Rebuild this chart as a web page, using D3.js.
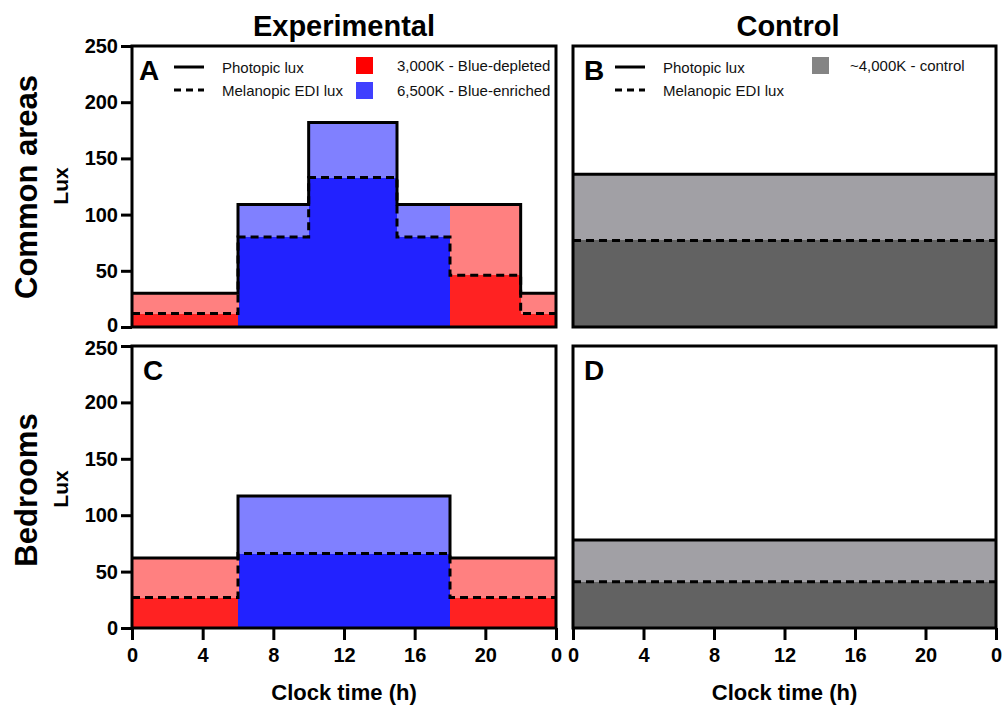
<!DOCTYPE html>
<html>
<head>
<meta charset="utf-8">
<script src="https://cdn.jsdelivr.net/npm/d3@7"></script>
<style>
  html, body { margin: 0; padding: 0; background: #fff; }
  svg { display: block; font-family: "Liberation Sans", Arial, Helvetica, sans-serif; }
</style>
</head>
<body>
<svg id="chart" width="1005" height="705"></svg>
<script>
// ---------------- DATA ----------------
const xTickValues = [0, 4, 8, 12, 16, 20, 24];
const xTickLabels = ["0", "4", "8", "12", "16", "20", "0"];
const yTickValues = [0, 50, 100, 150, 200, 250];

// Experimental – common areas (hours edges, photopic / melanopic EDI lux, light type)
const commonExpEdges = [0, 6, 10, 15, 18, 22, 24];
const commonExpPhotopic = [30, 109, 182, 109, 109, 30];
const commonExpMelanopic = [12, 80, 133, 80, 46, 12];
const commonExpType = ["3000K", "6500K", "6500K", "6500K", "3000K", "3000K"];

// Experimental – bedrooms
const bedroomExpEdges = [0, 6, 18, 24];
const bedroomExpPhotopic = [62, 117, 62];
const bedroomExpMelanopic = [27, 66, 27];
const bedroomExpType = ["3000K", "6500K", "3000K"];

// Control – common areas
const commonCtrlEdges = [0, 24];
const commonCtrlPhotopic = [136];
const commonCtrlMelanopic = [77];
const commonCtrlType = ["4000K"];

// Control – bedrooms
const bedroomCtrlEdges = [0, 24];
const bedroomCtrlPhotopic = [78];
const bedroomCtrlMelanopic = [41];
const bedroomCtrlType = ["4000K"];

const columnTitles = ["Experimental", "Control"];
const rowTitles = ["Common areas", "Bedrooms"];
const yLabel = "Lux";
const xLabel = "Clock time (h)";
const lineLegend = ["Photopic lux", "Melanopic EDI lux"];
const expLegend = ["3,000K - Blue-depleted", "6,500K - Blue-enriched"];
const ctrlLegend = ["~4,000K - control"];

// ---------------- STYLE ----------------
const fills = {
  "3000K": { light: "#ff8080", dark: "#ff2222", legend: "#ff0000" },
  "6500K": { light: "#8080ff", dark: "#2222ff", legend: "#4040ff" },
  "4000K": { light: "#a1a0a5", dark: "#626262", legend: "#848484" }
};

const svg = d3.select("#chart");

const panelDefs = [
  { key: "A", x0: 132, x1: 556, y0: 46, y1: 327, edges: commonExpEdges, phot: commonExpPhotopic, mel: commonExpMelanopic, type: commonExpType, yAxis: true, xAxis: false },
  { key: "B", x0: 573, x1: 996, y0: 46, y1: 327, edges: commonCtrlEdges, phot: commonCtrlPhotopic, mel: commonCtrlMelanopic, type: commonCtrlType, yAxis: false, xAxis: false },
  { key: "C", x0: 132, x1: 556, y0: 346, y1: 628, edges: bedroomExpEdges, phot: bedroomExpPhotopic, mel: bedroomExpMelanopic, type: bedroomExpType, yAxis: true, xAxis: true },
  { key: "D", x0: 573, x1: 996, y0: 346, y1: 628, edges: bedroomCtrlEdges, phot: bedroomCtrlPhotopic, mel: bedroomCtrlMelanopic, type: bedroomCtrlType, yAxis: false, xAxis: true }
];

panelDefs.forEach(p => {
  const x = d3.scaleLinear().domain([0, 24]).range([p.x0, p.x1]);
  const y = d3.scaleLinear().domain([0, 250]).range([p.y1, p.y0]);
  const g = svg.append("g");

  // fills
  const segs = p.phot.map((v, i) => ({ a: p.edges[i], b: p.edges[i + 1], phot: v, mel: p.mel[i], type: p.type[i] }));
  g.selectAll("rect.dark").data(segs).join("rect")
    .attr("shape-rendering", "crispEdges")
    .attr("x", d => x(d.a)).attr("width", d => x(d.b) - x(d.a) + 0.6)
    .attr("y", d => y(d.mel)).attr("height", d => y(0) - y(d.mel))
    .attr("fill", d => fills[d.type].dark);
  g.selectAll("rect.light").data(segs).join("rect")
    .attr("shape-rendering", "crispEdges")
    .attr("x", d => x(d.a)).attr("width", d => x(d.b) - x(d.a) + 0.6)
    .attr("y", d => y(d.phot)).attr("height", d => y(d.mel) - y(d.phot))
    .attr("fill", d => fills[d.type].light);

  // step lines
  const stepLine = d3.line().x(d => x(d[0])).y(d => y(d[1])).curve(d3.curveStepAfter);
  const ptsM = p.mel.map((v, i) => [p.edges[i], v]).concat([[24, p.mel[p.mel.length - 1]]]);
  const ptsP = p.phot.map((v, i) => [p.edges[i], v]).concat([[24, p.phot[p.phot.length - 1]]]);
  g.append("path").attr("d", stepLine(ptsM)).attr("fill", "none")
    .attr("stroke", "#000").attr("stroke-width", 3).attr("stroke-dasharray", "8,5");
  g.append("path").attr("d", stepLine(ptsP)).attr("fill", "none")
    .attr("stroke", "#000").attr("stroke-width", 3);

  // box
  g.append("rect").attr("x", p.x0).attr("y", p.y0)
    .attr("width", p.x1 - p.x0).attr("height", p.y1 - p.y0)
    .attr("fill", "none").attr("stroke", "#000").attr("stroke-width", 3);

  // y axis
  if (p.yAxis) {
    const ya = g.append("g").attr("transform", `translate(${p.x0},0)`)
      .call(d3.axisLeft(y).tickValues(yTickValues).tickSize(11).tickPadding(3).tickFormat(d3.format("d")));
    ya.select(".domain").remove();
    ya.selectAll("line").attr("stroke", "#000").attr("stroke-width", 3);
    ya.selectAll("text").attr("font-size", 20).attr("font-weight", "bold").attr("fill", "#000")
      .attr("font-family", "'Liberation Sans', Arial, sans-serif");
    // nudge the labels where the two stacked panels meet so they do not collide
    if (p.key === "A") ya.selectAll(".tick").filter(d => d === 0).select("text").attr("dy", "0.22em");
    if (p.key === "C") ya.selectAll(".tick").filter(d => d === 250).select("text").attr("dy", "0.42em");
  }
  // x axis
  if (p.xAxis) {
    const xa = g.append("g").attr("transform", `translate(0,${p.y1})`)
      .call(d3.axisBottom(x).tickValues(xTickValues).tickSize(12).tickPadding(8)
        .tickFormat((d, i) => xTickLabels[i]));
    xa.select(".domain").remove();
    xa.selectAll("line").attr("stroke", "#000").attr("stroke-width", 3);
    xa.selectAll("text").attr("font-size", 20).attr("font-weight", "bold").attr("fill", "#000")
      .attr("font-family", "'Liberation Sans', Arial, sans-serif");
    g.append("text").attr("x", (p.x0 + p.x1) / 2).attr("y", 700)
      .attr("text-anchor", "middle").attr("font-size", 22).attr("font-weight", "bold")
      .text(xLabel);
  }

  // panel letter
  g.append("text").attr("x", p.key === "A" ? p.x0 + 7 : p.x0 + 11).attr("y", p.y0 + 34)
    .attr("font-size", 28).attr("font-weight", "bold").text(p.key);
});

// column titles
[[344, columnTitles[0]], [788, columnTitles[1]]].forEach(([cx, t]) => {
  svg.append("text").attr("x", cx).attr("y", 36).attr("text-anchor", "middle")
    .attr("font-size", 29).attr("font-weight", "bold").text(t);
});

// row titles & y labels
[[187, rowTitles[0]], [490, rowTitles[1]]].forEach(([cy, t]) => {
  svg.append("text").attr("transform", `translate(37,${cy}) rotate(-90)`)
    .attr("text-anchor", "middle").attr("font-size", 31).attr("font-weight", "bold").text(t);
  svg.append("text").attr("transform", `translate(68,${cy - 1}) rotate(-90)`)
    .attr("text-anchor", "middle").attr("font-size", 21).attr("font-weight", "bold").text(yLabel);
});

// legends
function lineLegendAt(x0) {
  const rows = [67, 90];
  svg.append("line").attr("x1", x0 + 42).attr("x2", x0 + 72).attr("y1", rows[0]).attr("y2", rows[0])
    .attr("stroke", "#000").attr("stroke-width", 3);
  svg.append("line").attr("x1", x0 + 42).attr("x2", x0 + 72).attr("y1", rows[1]).attr("y2", rows[1])
    .attr("stroke", "#000").attr("stroke-width", 3).attr("stroke-dasharray", "7,5");
  lineLegend.forEach((t, i) => {
    svg.append("text").attr("x", x0 + 90).attr("y", rows[i] + 5.5)
      .attr("font-size", 15).attr("fill", "#111").text(t);
  });
}
lineLegendAt(132);
lineLegendAt(573);

const expTypes = ["3000K", "6500K"];
expLegend.forEach((t, i) => {
  const cy = [65.5, 90.5][i];
  svg.append("rect").attr("x", 356).attr("y", cy - 8.5).attr("width", 17).attr("height", 17)
    .attr("fill", fills[expTypes[i]].legend);
  svg.append("text").attr("x", 397).attr("y", cy + 5.5).attr("font-size", 15).attr("fill", "#111").text(t);
});
ctrlLegend.forEach((t) => {
  const cy = 65.5;
  svg.append("rect").attr("x", 812).attr("y", cy - 8.5).attr("width", 17).attr("height", 17)
    .attr("fill", fills["4000K"].legend);
  svg.append("text").attr("x", 850).attr("y", cy + 5.5).attr("font-size", 15).attr("fill", "#111").text(t);
});
</script>
</body>
</html>
